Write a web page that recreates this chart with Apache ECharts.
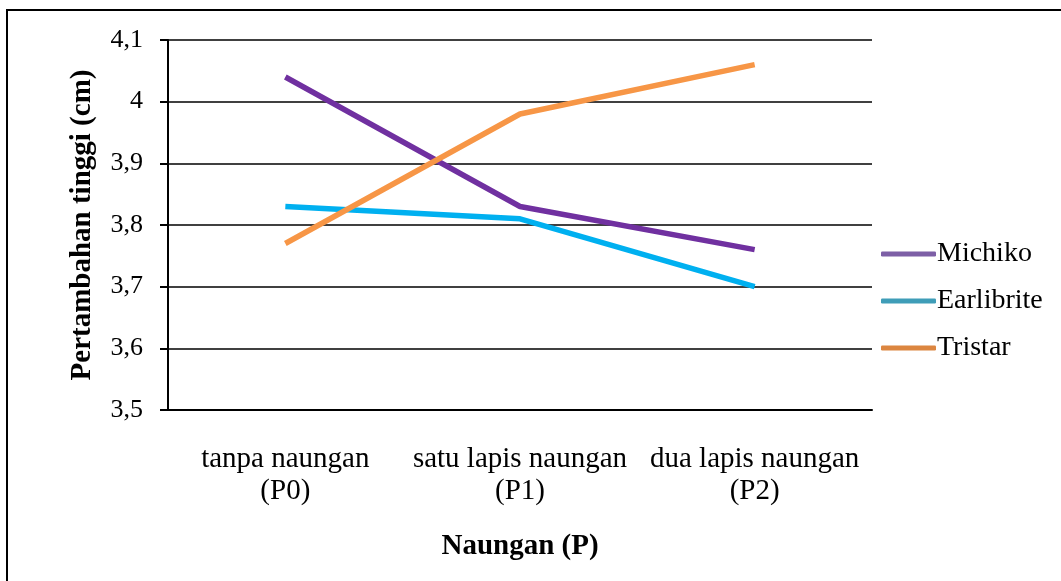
<!DOCTYPE html>
<html>
<head>
<meta charset="utf-8">
<script src="https://cdn.jsdelivr.net/npm/echarts@6/dist/echarts.min.js"></script>
<style>
html,body{margin:0;padding:0;background:#fff;}
#c{width:1061px;height:581px;}
</style>
</head>
<body>
<div id="c"></div>
<script>
var categories = ['tanpa naungan\n(P0)', 'satu lapis naungan\n(P1)', 'dua lapis naungan\n(P2)'];
var seriesNames = ['Michiko', 'Earlibrite', 'Tristar'];
var michiko = [4.04, 3.83, 3.76];
var earlibrite = [3.83, 3.81, 3.70];
var tristar = [3.77, 3.98, 4.06];
var lineColors = ['#7030A0', '#00B0F0', '#F79646'];
var legendColors = ['#7D5FA6', '#3F9DB8', '#DC8640'];
var xTitle = 'Naungan (P)';
var yTitle = 'Pertambahan tinggi (cm)';

var font = 'Liberation Serif';
var chart = echarts.init(document.getElementById('c'));
var dataArr = [michiko, earlibrite, tristar];
chart.setOption({
  animation: false,
  backgroundColor: '#fff',
  graphic: [{
    type: 'rect',
    shape: {x: 7, y: 10, width: 1100, height: 620},
    style: {fill: 'none', stroke: '#000', lineWidth: 2},
    silent: true, z: 100
  }],
  grid: {left: 168, right: 189, top: 40, bottom: 171},
  legend: {
    orient: 'vertical',
    left: 876,
    top: 235,
    icon: 'roundRect',
    itemWidth: 55,
    itemHeight: 5,
    itemGap: 19,
    textStyle: {fontFamily: font, fontSize: 28, color: '#000', padding: [0,0,0,-4]},
    data: seriesNames.map(function (n, i) {
      return {name: n, itemStyle: {color: legendColors[i]}};
    })
  },
  xAxis: {
    type: 'category',
    data: categories,
    boundaryGap: true,
    axisLine: {lineStyle: {color: '#000', width: 2}},
    axisTick: {show: false},
    axisLabel: {fontFamily: font, fontSize: 29, color: '#000', margin: 33, lineHeight: 32, interval: 0},
    name: xTitle,
    nameLocation: 'middle',
    nameGap: 122,
    nameTextStyle: {fontFamily: font, fontSize: 29, fontWeight: 'bold', color: '#000'}
  },
  yAxis: {
    type: 'value',
    min: 3.5, max: 4.1, interval: 0.1,
    axisLine: {show: true, lineStyle: {color: '#000', width: 2}},
    axisTick: {show: true, length: 8, lineStyle: {color: '#000', width: 2}},
    splitLine: {lineStyle: {color: '#000', width: 1.5}},
    axisLabel: {
      fontFamily: font, fontSize: 26, color: '#000', margin: 25,
      formatter: function (v) { return String(Math.round(v * 10) / 10).replace('.', ','); }
    },
    name: yTitle,
    nameLocation: 'middle',
    nameGap: 71,
    nameTextStyle: {fontFamily: font, fontSize: 29, fontWeight: 'bold', color: '#000'}
  },
  series: seriesNames.map(function (n, i) {
    return {
      name: n, type: 'line', data: dataArr[i],
      showSymbol: false, symbol: 'none',
      lineStyle: {color: lineColors[i], width: 5.5},
      itemStyle: {color: lineColors[i]}
    };
  })
});
</script>
</body>
</html>
